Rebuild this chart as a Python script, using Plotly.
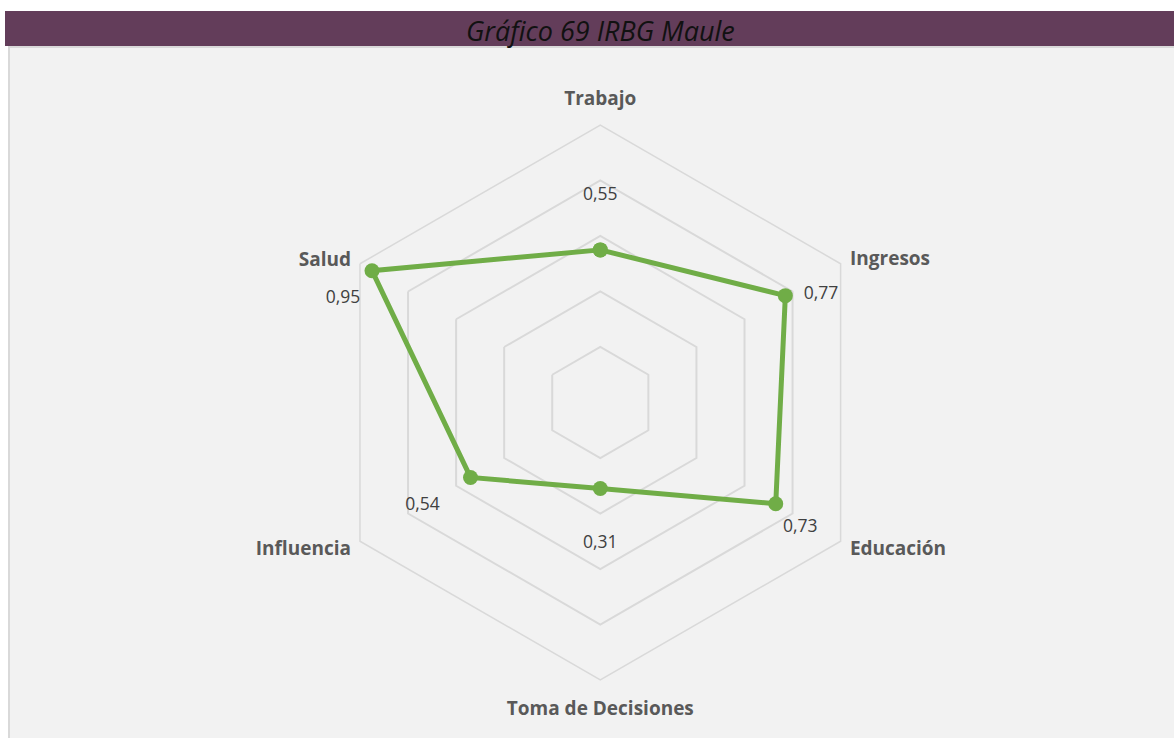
import plotly.graph_objects as go

# Dimensions of the regional gender gap index (IRBG) for Maule
categories = ["Trabajo", "Ingresos", "Educación", "Toma de Decisiones", "Influencia", "Salud"]
values = [0.55, 0.77, 0.73, 0.31, 0.54, 0.95]
value_labels = ["0,55", "0,77", "0,73", "0,31", "0,54", "0,95"]
grid_ticks = [0.2, 0.4, 0.6, 0.8, 1.0]

# Placement of the value labels relative to each point (radial shift, angular shift in degrees)
label_dr = [0.195, 0.115, 0.12, 0.2, 0.2, 0.05]
label_dtheta = [0, 4, 2, 0, 0, -8]

# Placement of the category names around the outer ring
cat_r = [1.09, 1.036, 1.045, 1.108, 1.044, 1.033]
cat_dtheta = [0, 0.3, 0.6, 0, -0.6, -0.4]
cat_pos = ["middle center", "middle right", "middle right",
           "middle center", "middle left", "middle left"]

W, H = 1174, 738
GREEN = "#70ad47"
GRID = "#d9d9d9"
FONT = "Open Sans"

# polar area: centre and radius in pixels
cx, cy, R = 600.3, 402.5, 277.5
dom_x = [(cx - R) / W, (cx + R) / W]
dom_y = [(H - cy - R) / H, (H - cy + R) / H]

# overlay for text, same centre and scale but extending past the outer ring
EXT = 1.2
dom2_x = [(cx - EXT * R) / W, (cx + EXT * R) / W]
dom2_y = [(H - cy - EXT * R) / H, (H - cy + EXT * R) / H]

fig = go.Figure()

fig.add_trace(go.Scatterpolar(
    r=values + values[:1],
    theta=categories + categories[:1],
    mode="lines+markers",
    line=dict(color=GREEN, width=5),
    marker=dict(color=GREEN, size=15),
    subplot="polar",
    showlegend=False,
    hoverinfo="skip",
))

step = 360 / len(categories)
fig.add_trace(go.Scatterpolar(
    r=[v + d for v, d in zip(values, label_dr)],
    theta=[i * step + d for i, d in enumerate(label_dtheta)],
    mode="text",
    text=value_labels,
    textposition="middle center",
    textfont=dict(family=FONT, size=17.5, color="#404040"),
    subplot="polar2",
    cliponaxis=False,
    showlegend=False,
    hoverinfo="skip",
))

fig.add_trace(go.Scatterpolar(
    r=cat_r,
    theta=[i * step + d for i, d in enumerate(cat_dtheta)],
    mode="text",
    text=categories,
    textposition=cat_pos,
    textfont=dict(family=FONT, size=19, color="#595959", weight="bold"),
    subplot="polar2",
    cliponaxis=False,
    showlegend=False,
    hoverinfo="skip",
))

fig.update_layout(
    width=W, height=H,
    margin=dict(l=0, r=0, t=0, b=0),
    paper_bgcolor="white",
    plot_bgcolor="rgba(0,0,0,0)",
    polar=dict(
        domain=dict(x=dom_x, y=dom_y),
        bgcolor="rgba(0,0,0,0)",
        gridshape="linear",
        radialaxis=dict(
            range=[0, 1], tickvals=grid_ticks, showticklabels=False,
            showline=False, ticks="", gridcolor=GRID, gridwidth=1.5,
        ),
        angularaxis=dict(
            type="category", rotation=90, direction="clockwise",
            showgrid=False, showline=True, linecolor=GRID, linewidth=1.5,
            ticks="", showticklabels=False,
        ),
    ),
    polar2=dict(
        domain=dict(x=dom2_x, y=dom2_y),
        bgcolor="rgba(0,0,0,0)",
        radialaxis=dict(range=[0, EXT], visible=False),
        angularaxis=dict(type="linear", rotation=90, direction="clockwise",
                         thetaunit="degrees", visible=False),
    ),
    shapes=[
        # chart panel
        dict(type="rect", xref="paper", yref="paper",
             x0=8 / W, x1=1, y0=0, y1=1 - 46 / H,
             fillcolor="#f2f2f2", line=dict(width=0), layer="below"),
        dict(type="line", xref="paper", yref="paper",
             x0=9 / W, x1=9 / W, y0=0, y1=1 - 46 / H,
             line=dict(color="#d9d9d9", width=2), layer="below"),
        dict(type="line", xref="paper", yref="paper",
             x0=8 / W, x1=1, y0=1 - 47 / H, y1=1 - 47 / H,
             line=dict(color="#d9d9d9", width=2), layer="below"),
        # title bar
        dict(type="rect", xref="paper", yref="paper",
             x0=5 / W, x1=1, y0=1 - 46 / H, y1=1 - 11 / H,
             fillcolor="#633d5a", line=dict(width=0), layer="below"),
    ],
    annotations=[
        dict(text="<i>Gráfico 69 IRBG Maule</i>", xref="paper", yref="paper",
             x=600 / W, y=1 - 30 / H, xanchor="center", yanchor="middle",
             showarrow=False, font=dict(family=FONT, size=27, color="#111111")),
    ],
)

fig.write_html("out.html")
